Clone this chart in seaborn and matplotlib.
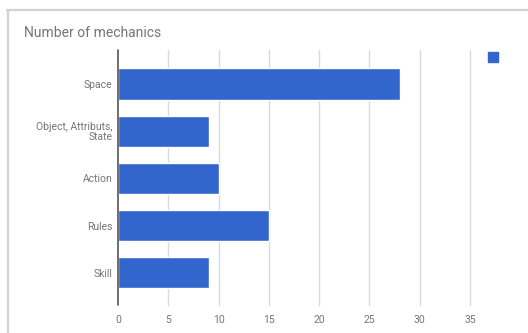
import matplotlib
matplotlib.use("Agg")
import matplotlib.pyplot as plt
from matplotlib.lines import Line2D
from matplotlib.patches import Rectangle
import seaborn as sns
import pandas as pd

categories = ["Space", "Object, Attributs,\nState", "Action", "Rules", "Skill"]
mechanics = [28, 9, 10, 15, 9]
x_ticks = [0, 5, 10, 15, 20, 25, 30, 35]

df = pd.DataFrame({"category": categories, "count": mechanics})

sns.set_theme(style="white")
plt.rcParams["font.family"] = ["Roboto", "DejaVu Sans"]

W, H = 528, 333
fig = plt.figure(figsize=(W / 100, H / 100), dpi=100)
ax = fig.add_axes([118 / W, 1 - 305 / H, (470 - 118) / W, (305 - 50) / H])

sns.barplot(data=df, y="category", x="count", orient="h", color="#3366cc",
            saturation=1, width=0.66, ax=ax, zorder=3)

ax.set_xlim(0, 35)
ax.set_ylim(4.68, -0.72)
ax.set_xticks(x_ticks)
ax.set_xticklabels([str(t) for t in x_ticks])
ax.set_xlabel("")
ax.set_ylabel("")
for t in x_ticks[1:]:
    ax.axvline(t, color="#dadada", lw=1.0, zorder=1, clip_on=False)
ax.axvline(0, color="#555555", lw=1.2, zorder=4, clip_on=False)

for s in ax.spines.values():
    s.set_visible(False)
ax.tick_params(axis="both", length=0, labelsize=7.5, colors="#757575")
ax.tick_params(axis="y", pad=4)
ax.tick_params(axis="x", pad=7)
for lbl in ax.get_yticklabels():
    lbl.set_multialignment("right")
    lbl.set_linespacing(1.0)

# card outline
fig.add_artist(Line2D([7 / W, 1], [1 - 9.5 / H, 1 - 9.5 / H], color="#d2d2d2", lw=1.6))
fig.add_artist(Line2D([7.5 / W, 7.5 / W], [0, 1 - 9.5 / H], color="#d2d2d2", lw=1.6))

fig.text(24 / W, 1 - 33 / H, "Number of mechanics", fontsize=10, color="#757575",
         va="center", ha="left")

# legend swatch
fig.add_artist(Rectangle((488 / W, 1 - 62 / H), 10 / W, 10 / H, color="#3366cc",
                         transform=fig.transFigure))

fig.savefig("out.png", dpi=100)
